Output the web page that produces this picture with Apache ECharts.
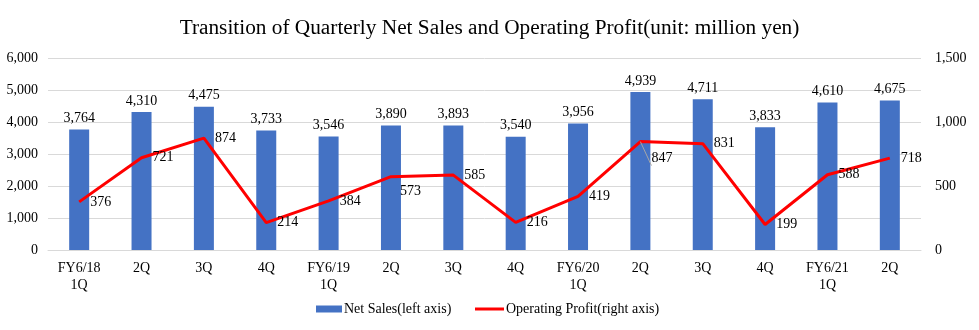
<!DOCTYPE html>
<html>
<head>
<meta charset="utf-8">
<script src="https://cdn.jsdelivr.net/npm/echarts@6/dist/echarts.min.js"></script>
<style>html,body{margin:0;padding:0;background:#fff;}#chart{width:979px;height:330px;}</style>
</head>
<body>
<div id="chart"></div>
<script>
const categories = ['FY6/18\n1Q','2Q','3Q','4Q','FY6/19\n1Q','2Q','3Q','4Q','FY6/20\n1Q','2Q','3Q','4Q','FY6/21\n1Q','2Q'];
const netSales = [3764, 4310, 4475, 3733, 3546, 3890, 3893, 3540, 3956, 4939, 4711, 3833, 4610, 4675];
const operatingProfit = [376, 721, 874, 214, 384, 573, 585, 216, 419, 847, 831, 199, 588, 718];
const leftTicks = { min: 0, max: 6000, interval: 1000 };
const rightTicks = { min: 0, max: 1500, interval: 500 };

const font = '"Liberation Serif", "Times New Roman", serif';
const fmt = v => v.toLocaleString('en-US');

// a couple of profit labels sit lower to stay clear of the line
const profitData = operatingProfit.map((v, i) => {
  if (i === 9) {
    return { value: v, label: { offset: [0, 17] }, labelLine: { show: true } };
  }
  if (i === 5) {
    return { value: v, label: { offset: [-2, 15] } };
  }
  return v;
});

const legendText = { fontFamily: font, fontSize: 14, color: '#000', padding: [0, 0, 0, -3] };

const chart = echarts.init(document.getElementById('chart'));
chart.setOption({
  animation: false,
  textStyle: { fontFamily: font },
  title: {
    text: 'Transition of Quarterly Net Sales and Operating Profit(unit: million yen)',
    left: 'center', top: 13,
    textStyle: { fontFamily: font, fontSize: 21.3, fontWeight: 'normal', color: '#000' }
  },
  legend: [
    {
      left: 311, top: 297,
      itemWidth: 26, itemHeight: 7,
      textStyle: legendText,
      data: [{ name: 'Net Sales(left axis)', icon: 'rect' }]
    },
    {
      left: 470, top: 297,
      itemWidth: 29, itemHeight: 3,
      textStyle: legendText,
      data: [{ name: 'Operating Profit(right axis)', icon: 'rect', itemStyle: { color: '#FF0000' } }]
    }
  ],
  grid: { left: 48, right: 58, top: 58, bottom: 80 },
  xAxis: {
    type: 'category', data: categories,
    axisLine: { lineStyle: { color: '#d9d9d9' } },
    axisTick: { show: false },
    axisLabel: { fontFamily: font, fontSize: 14, color: '#000', lineHeight: 17, margin: 10 }
  },
  yAxis: [
    {
      type: 'value', ...leftTicks,
      axisLine: { show: false }, axisTick: { show: false },
      splitLine: { lineStyle: { color: '#d9d9d9' } },
      axisLabel: { fontFamily: font, fontSize: 14, color: '#000', formatter: fmt, margin: 10 }
    },
    {
      type: 'value', ...rightTicks,
      axisLine: { show: false }, axisTick: { show: false },
      splitLine: { show: false },
      axisLabel: { fontFamily: font, fontSize: 14, color: '#000', formatter: fmt, margin: 14 }
    }
  ],
  series: [
    {
      name: 'Net Sales(left axis)', type: 'bar', data: netSales,
      yAxisIndex: 0, barWidth: 20,
      itemStyle: { color: '#4472C4' },
      label: { show: true, position: 'top', distance: 4, fontFamily: font, fontSize: 14, color: '#000', formatter: p => fmt(p.value) }
    },
    {
      name: 'Operating Profit(right axis)', type: 'line', data: profitData,
      yAxisIndex: 1, symbol: 'circle', symbolSize: 0.1, showSymbol: true, z: 5,
      lineStyle: { color: '#FF0000', width: 3 },
      itemStyle: { color: '#FF0000' },
      labelLine: { lineStyle: { color: '#a6a6a6', width: 1 } },
      label: { show: true, position: 'right', distance: 11, fontFamily: font, fontSize: 14, color: '#000' }
    }
  ]
});
</script>
</body>
</html>
